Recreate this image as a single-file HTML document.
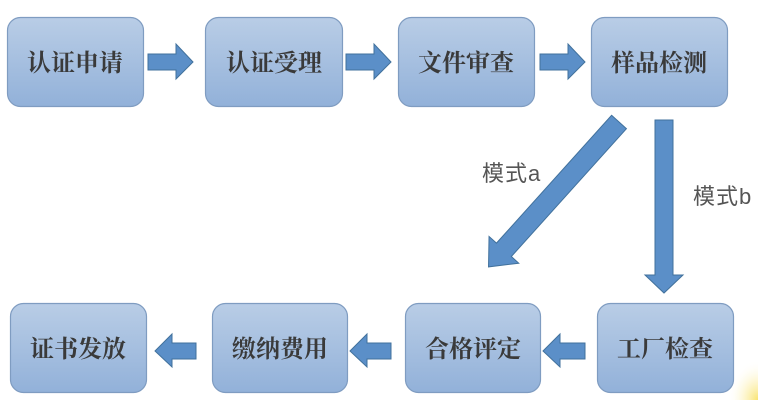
<!DOCTYPE html>
<html><head><meta charset="utf-8"><style>
html,body{margin:0;padding:0;background:#fff;}
svg{display:block;}
.bt{font-family:"Liberation Serif","Noto Serif CJK SC",serif;font-size:24px;font-weight:bold;fill:#3a3a3a;text-anchor:middle;}
.lb{font-family:"Liberation Sans","Noto Sans CJK SC",sans-serif;font-size:22px;fill:#555;letter-spacing:1px;}
</style></head><body>
<svg width="758" height="400" viewBox="0 0 758 400" xmlns="http://www.w3.org/2000/svg">
<defs>
<linearGradient id="g" x1="0" y1="0" x2="0" y2="1">
<stop offset="0" stop-color="#b9cde6"/>
<stop offset="1" stop-color="#92b1d9"/>
</linearGradient>
<radialGradient id="yw" cx="1" cy="1" r="1">
<stop offset="0" stop-color="#f7dc4a" stop-opacity="0.8"/>
<stop offset="0.5" stop-color="#fbe98a" stop-opacity="0.35"/>
<stop offset="1" stop-color="#fff" stop-opacity="0"/>
</radialGradient>
</defs>
<rect width="758" height="400" fill="#fff"/>
<rect x="728" y="360" width="30" height="40" fill="url(#yw)"/>
<g fill="url(#g)" stroke="#7f9cc1" stroke-width="1.2">
<rect x="7.5" y="17.5" width="136" height="89" rx="13"/>
<rect x="205.5" y="17.5" width="137" height="89" rx="13"/>
<rect x="398.5" y="17.5" width="136" height="89" rx="13"/>
<rect x="591.5" y="17.5" width="136" height="89" rx="13"/>
<rect x="10.5" y="303.5" width="136" height="89" rx="13"/>
<rect x="212.5" y="303.5" width="135" height="89" rx="13"/>
<rect x="405.5" y="303.5" width="135" height="89" rx="13"/>
<rect x="597.5" y="303.5" width="136" height="89" rx="13"/>
</g>
<g class="bt">
<text x="75" y="71">认证申请</text>
<text x="274" y="71">认证受理</text>
<text x="466" y="71">文件审查</text>
<text x="659" y="71">样品检测</text>
<text x="78" y="357">证书发放</text>
<text x="280" y="357">缴纳费用</text>
<text x="473" y="357">合格评定</text>
<text x="665" y="357">工厂检查</text>
</g>
<g fill="#5b8fc8" stroke="#41719c" stroke-width="1">
<polygon points="148,54 176,54 176,44 193,62 176,79 176,70 148,70"/>
<polygon points="346,54 374,54 374,44 391,62 374,79 374,70 346,70"/>
<polygon points="540,54 568,54 568,44 585,62 568,79 568,70 540,70"/>
<polygon points="585,343 560,343 560,334 543,351 560,367 560,359 585,359"/>
<polygon points="391,343 367,343 367,334 350,351 367,367 367,359 391,359"/>
<polygon points="196,343 172,343 172,334 155,351 172,367 172,359 196,359"/>
<polygon points="655,120 673,120 673,275 683,275 664,293 645,275 655,275"/>
<g transform="translate(619,122) rotate(42)">
<polygon points="-10,0 10,0 10,172 20,172 0,195 -20,172 -10,172"/>
</g>
</g>
<text class="lb" x="482" y="181">模式a</text>
<text class="lb" x="693" y="204">模式b</text>
</svg>
</body></html>
